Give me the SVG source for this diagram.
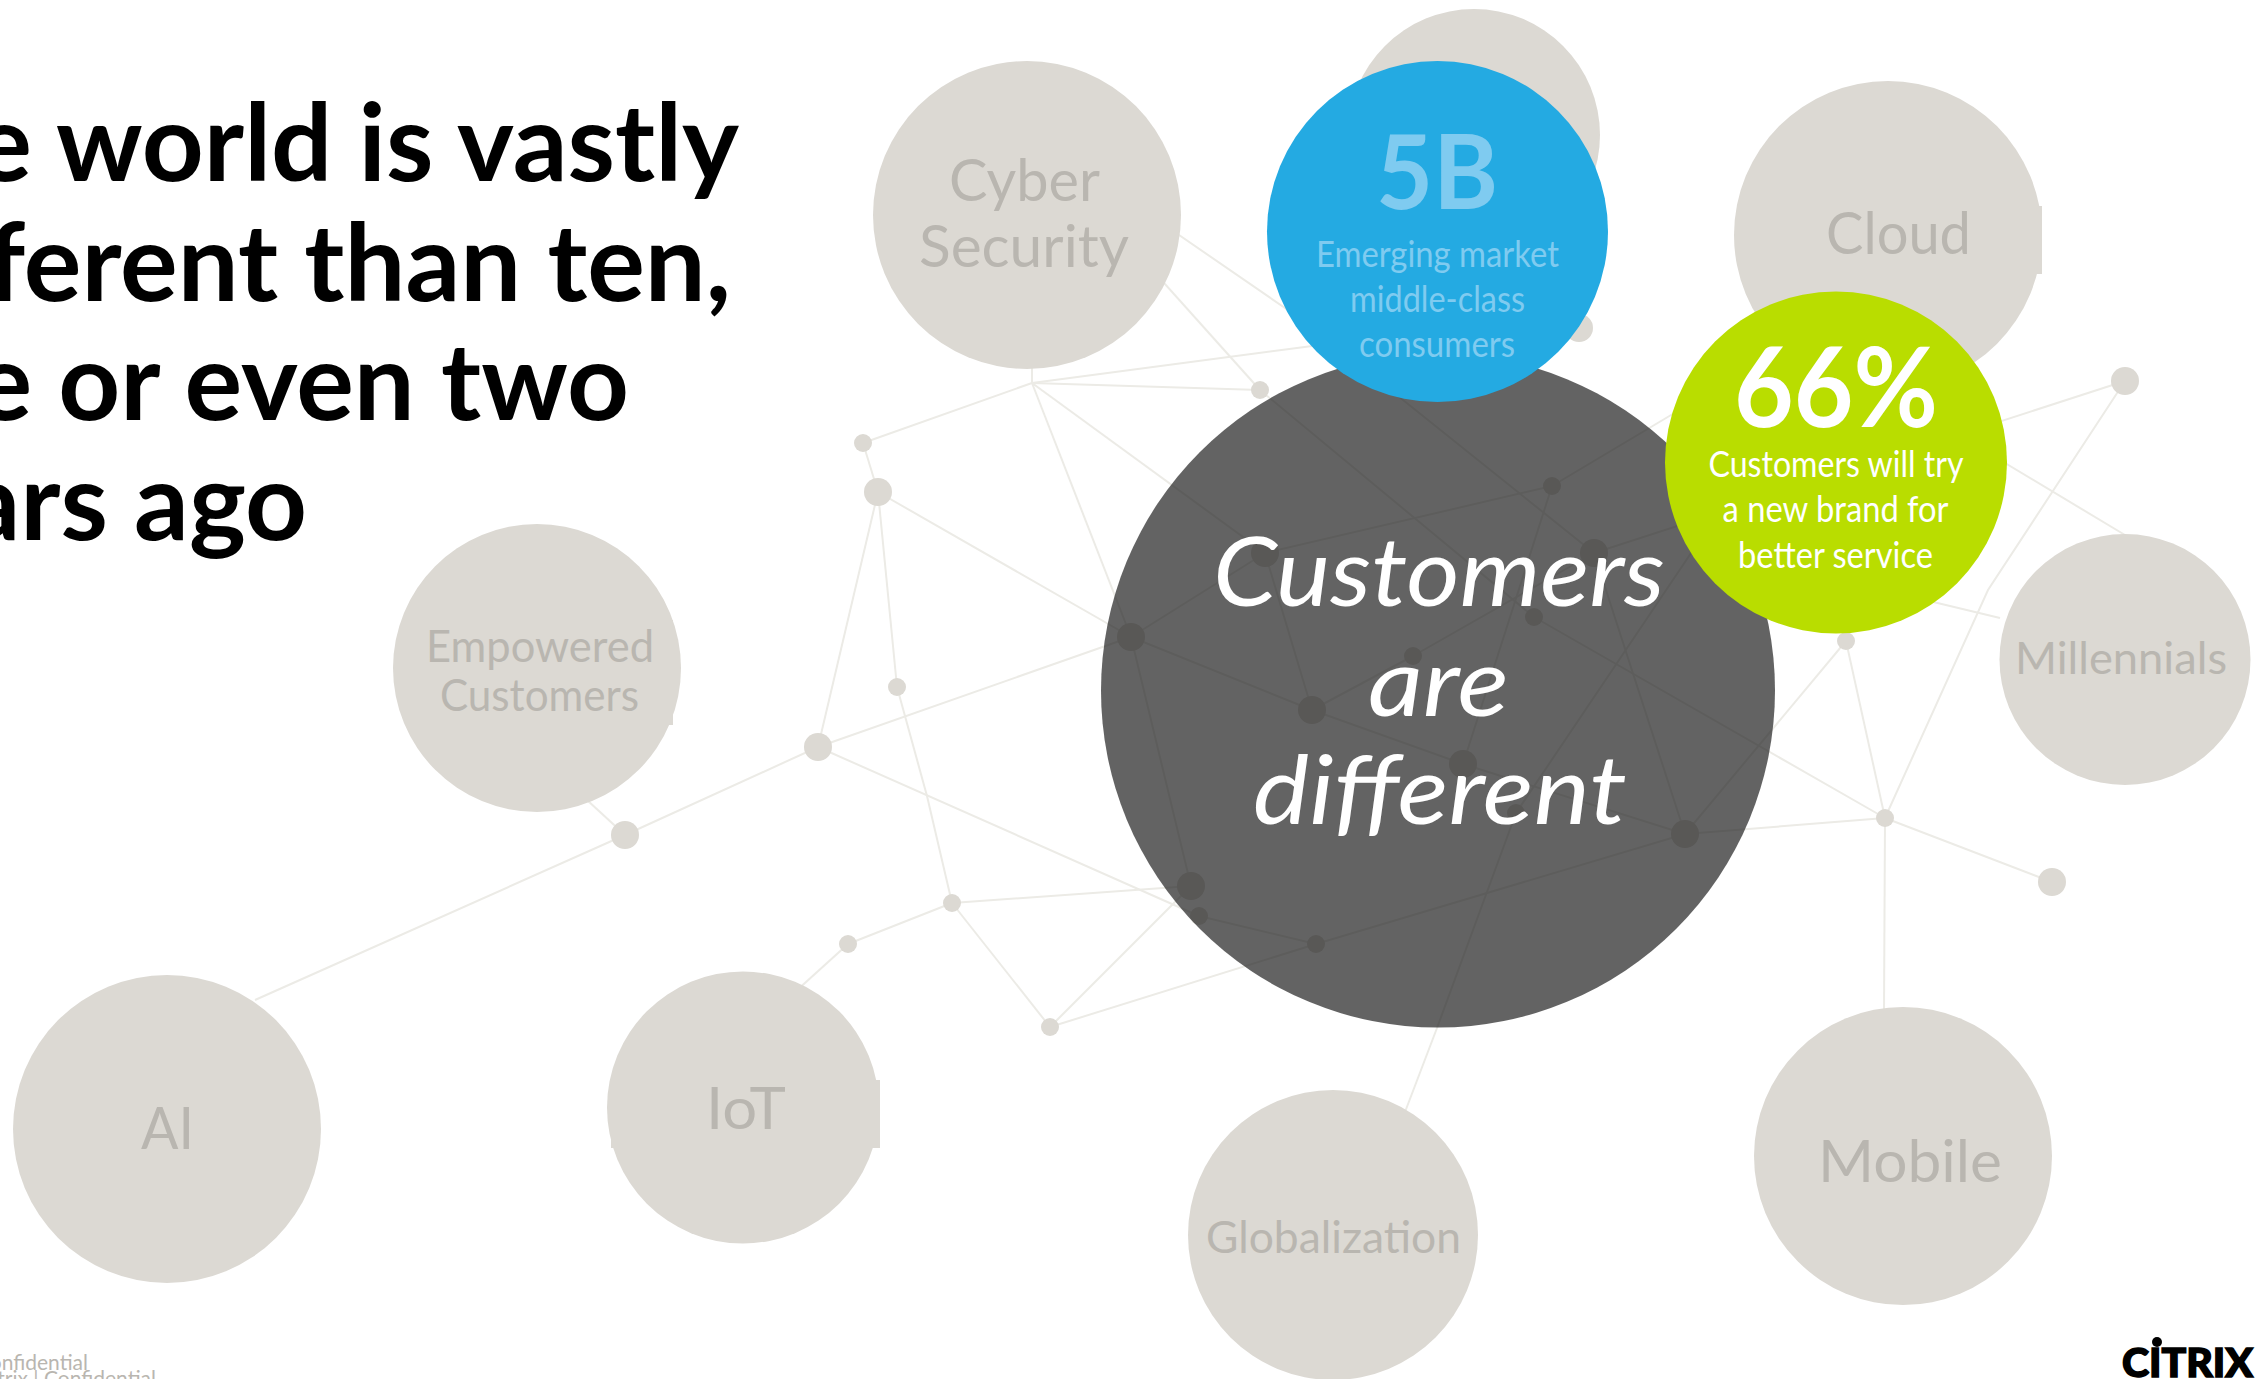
<svg xmlns="http://www.w3.org/2000/svg" width="2258" height="1379" viewBox="0 0 2258 1379">
<style>
text{font-family:Lato,"Open Sans","Liberation Sans",sans-serif}
.bg{fill:#fff}
.core{fill:#212121;fill-opacity:.7}
.g{fill:#dcd9d3}
.blue{fill:#24aae2}
.green{fill:#b9dd00}
#network polyline,#network line{fill:none;stroke:#ecebe6;stroke-width:2}
#network circle{fill:#dcd9d3}
.lbl{fill:#b9b6b0;text-anchor:start}
.title{font-weight:700;font-size:108px;fill:#000;text-anchor:end}
.bl{fill:#7fcbf0}
.w{fill:#fff}
.cu{fill:#fff;font-style:italic}
.foot{fill:#b9b6b0;font-size:21px;text-anchor:end}
</style>
<rect class="bg" x="0" y="0" width="2258" height="1379"/>
<g id="title">
<text class="title" x="739" y="181">The world is vastly</text>
<text class="title" x="731" y="301">different than ten,</text>
<text class="title" x="629" y="420">five or even two</text>
<text class="title" x="307" y="540">years ago</text>
</g>
<g id="network">
<g id="connectors">
<polyline points="255,1000 625,835 818,747 1131,637"/>
<line x1="587" y1="800" x2="625" y2="835"/>
<line x1="818" y1="747" x2="1199" y2="916"/>
<line x1="818" y1="747" x2="878" y2="492"/>
<line x1="878" y1="492" x2="897" y2="687"/>
<line x1="878" y1="492" x2="1131" y2="637"/>
<line x1="863" y1="443" x2="878" y2="492"/>
<line x1="863" y1="443" x2="1032" y2="383"/>
<polyline points="897,687 927,796 952,903"/>
<line x1="952" y1="903" x2="1191" y2="886"/>
<line x1="952" y1="903" x2="848" y2="944"/>
<line x1="848" y1="944" x2="795" y2="992"/>
<line x1="952" y1="903" x2="1050" y2="1027"/>
<line x1="1050" y1="1027" x2="1191" y2="886"/>
<line x1="1050" y1="1027" x2="1316" y2="944"/>
<line x1="1199" y1="916" x2="1316" y2="944"/>
<line x1="1316" y1="944" x2="1685" y2="834"/>
<line x1="1131" y1="637" x2="1191" y2="886"/>
<line x1="1131" y1="637" x2="1265" y2="553"/>
<line x1="1131" y1="637" x2="1312" y2="710"/>
<line x1="1032" y1="383" x2="1265" y2="553"/>
<line x1="1032" y1="383" x2="1131" y2="637"/>
<line x1="1032" y1="383" x2="1260" y2="390"/>
<line x1="1032" y1="383" x2="1320" y2="345"/>
<line x1="1032" y1="360" x2="1032" y2="383"/>
<line x1="1265" y1="553" x2="1552" y2="486"/>
<line x1="1552" y1="486" x2="1760" y2="362"/>
<line x1="2125" y1="381" x2="1594" y2="553"/>
<line x1="1552" y1="486" x2="1463" y2="764"/>
<line x1="1413" y1="656" x2="1594" y2="553"/>
<line x1="1413" y1="656" x2="1312" y2="710"/>
<line x1="1312" y1="710" x2="1463" y2="764"/>
<line x1="1463" y1="764" x2="1685" y2="834"/>
<line x1="1265" y1="553" x2="1312" y2="710"/>
<line x1="1260" y1="390" x2="1534" y2="617"/>
<line x1="1534" y1="617" x2="1885" y2="818"/>
<polyline points="1150,215 1285,308 1403,400 1594,553"/>
<line x1="1130" y1="245" x2="1260" y2="390"/>
<line x1="1594" y1="553" x2="1685" y2="834"/>
<line x1="1685" y1="834" x2="1846" y2="641"/>
<line x1="1846" y1="641" x2="1885" y2="818"/>
<polyline points="1885,818 1988,590 2125,381"/>
<line x1="1885" y1="818" x2="2052" y2="882"/>
<line x1="1885" y1="818" x2="1884" y2="1010"/>
<line x1="1885" y1="818" x2="1685" y2="834"/>
<line x1="1900" y1="400" x2="2125" y2="535"/>
<line x1="1850" y1="582" x2="2000" y2="618"/>
<polyline points="1516,813 1437,1028 1405,1112"/>
<line x1="1516" y1="813" x2="1720" y2="510"/>
</g>
<g id="dots">
<circle cx="625" cy="835" r="14"/>
<circle cx="818" cy="747" r="14"/>
<circle cx="863" cy="443" r="9"/>
<circle cx="878" cy="492" r="14"/>
<circle cx="897" cy="687" r="9"/>
<circle cx="952" cy="903" r="9"/>
<circle cx="848" cy="944" r="9"/>
<circle cx="1050" cy="1027" r="9"/>
<circle cx="1131" cy="637" r="14"/>
<circle cx="1191" cy="886" r="14"/>
<circle cx="1199" cy="916" r="9"/>
<circle cx="1260" cy="390" r="9"/>
<circle cx="1265" cy="553" r="14"/>
<circle cx="1552" cy="486" r="9"/>
<circle cx="1594" cy="553" r="14"/>
<circle cx="1534" cy="617" r="9"/>
<circle cx="1413" cy="656" r="9"/>
<circle cx="1312" cy="710" r="14"/>
<circle cx="1463" cy="764" r="14"/>
<circle cx="1516" cy="813" r="9"/>
<circle cx="1685" cy="834" r="14"/>
<circle cx="1316" cy="944" r="9"/>
<circle cx="1885" cy="818" r="9"/>
<circle cx="2052" cy="882" r="14"/>
<circle cx="2125" cy="381" r="14"/>
<circle cx="1846" cy="641" r="9"/>
<circle cx="1579" cy="328" r="14"/>
</g>
</g>
<circle class="core" id="core-disc" cx="1438" cy="690.5" r="337"/>
<g id="node-cyber">
<circle class="g" cx="1027" cy="215" r="154"/>
<text class="lbl" x="949" y="201" font-size="58" textLength="151" lengthAdjust="spacingAndGlyphs">Cyber</text>
<text class="lbl" x="919" y="267" font-size="58" textLength="210" lengthAdjust="spacingAndGlyphs">Security</text>
</g>
<g id="node-top"><circle class="g" cx="1474" cy="135" r="126"/></g>
<g id="node-cloud">
<circle class="g" cx="1888" cy="235" r="154"/>
<rect class="g" x="1790" y="206" width="252" height="68"/>
<text class="lbl" x="1826" y="254" font-size="58" textLength="145" lengthAdjust="spacingAndGlyphs">Cloud</text>
</g>
<g id="node-empowered">
<circle class="g" cx="537" cy="668" r="144"/>
<rect class="g" x="420" y="620" width="253" height="105"/>
<text class="lbl" x="426" y="662" font-size="45" textLength="228" lengthAdjust="spacingAndGlyphs">Empowered</text>
<text class="lbl" x="440" y="711" font-size="45" textLength="199" lengthAdjust="spacingAndGlyphs">Customers</text>
</g>
<g id="node-millennials">
<circle class="g" cx="2125" cy="659.5" r="125.5"/>
<text class="lbl" x="2015" y="674" font-size="45" textLength="212" lengthAdjust="spacingAndGlyphs">Millennials</text>
</g>
<g id="node-ai">
<circle class="g" cx="167" cy="1129" r="154"/>
<text class="lbl" x="141" y="1149" font-size="58" textLength="53" lengthAdjust="spacingAndGlyphs">AI</text>
</g>
<g id="node-iot">
<circle class="g" cx="743" cy="1107.5" r="136"/>
<rect class="g" x="611" y="1080" width="269" height="68"/>
<text class="lbl" x="706" y="1129" font-size="58" textLength="80" lengthAdjust="spacingAndGlyphs">IoT</text>
</g>
<g id="node-globalization">
<circle class="g" cx="1333" cy="1235" r="145"/>
<text class="lbl" x="1206" y="1253" font-size="45" textLength="255" lengthAdjust="spacingAndGlyphs">Globalization</text>
</g>
<g id="node-mobile">
<circle class="g" cx="1903" cy="1156" r="149"/>
<text class="lbl" x="1818" y="1182" font-size="58" textLength="184" lengthAdjust="spacingAndGlyphs">Mobile</text>
</g>
<g id="node-customers">
<text class="cu" x="1213" y="606" font-size="96" textLength="452" lengthAdjust="spacingAndGlyphs">Customers</text>
<text class="cu" x="1368" y="716" font-size="96" textLength="141" lengthAdjust="spacingAndGlyphs">are</text>
<text class="cu" x="1253" y="824" font-size="96" textLength="374" lengthAdjust="spacingAndGlyphs">different</text>
</g>
<g id="node-5b">
<circle class="blue" cx="1437.5" cy="231.5" r="170.5"/>
<text class="bl" x="1376" y="209" font-size="104" font-weight="700" textLength="122" lengthAdjust="spacingAndGlyphs">5B</text>
<text class="bl" x="1316" y="266.5" font-size="36" textLength="243" lengthAdjust="spacingAndGlyphs">Emerging market</text>
<text class="bl" x="1350" y="312" font-size="36" textLength="175" lengthAdjust="spacingAndGlyphs">middle-class</text>
<text class="bl" x="1359" y="356.5" font-size="36" textLength="156" lengthAdjust="spacingAndGlyphs">consumers</text>
</g>
<g id="node-66">
<circle class="green" cx="1836" cy="462.5" r="171"/>
<text class="w" x="1734" y="427" font-size="112" font-weight="700" textLength="204" lengthAdjust="spacingAndGlyphs">66%</text>
<text class="w" x="1708.5" y="477" font-size="36" textLength="255" lengthAdjust="spacingAndGlyphs">Customers will try</text>
<text class="w" x="1722.5" y="522" font-size="36" textLength="226" lengthAdjust="spacingAndGlyphs">a new brand for</text>
<text class="w" x="1738" y="567.5" font-size="36" textLength="195" lengthAdjust="spacingAndGlyphs">better service</text>
</g>
<g id="footer">
<text class="foot" x="88" y="1370">Confidential</text>
<text class="foot" x="156" y="1386">Citrix | Confidential</text>
</g>
<g id="logo">
<text x="2122" y="1377" font-size="40" font-weight="900" fill="#000" stroke="#000" stroke-width="1.5" textLength="131" lengthAdjust="spacingAndGlyphs">CITRIX</text>
<circle cx="2157" cy="1342" r="5" fill="#000"/>
</g>
</svg>
